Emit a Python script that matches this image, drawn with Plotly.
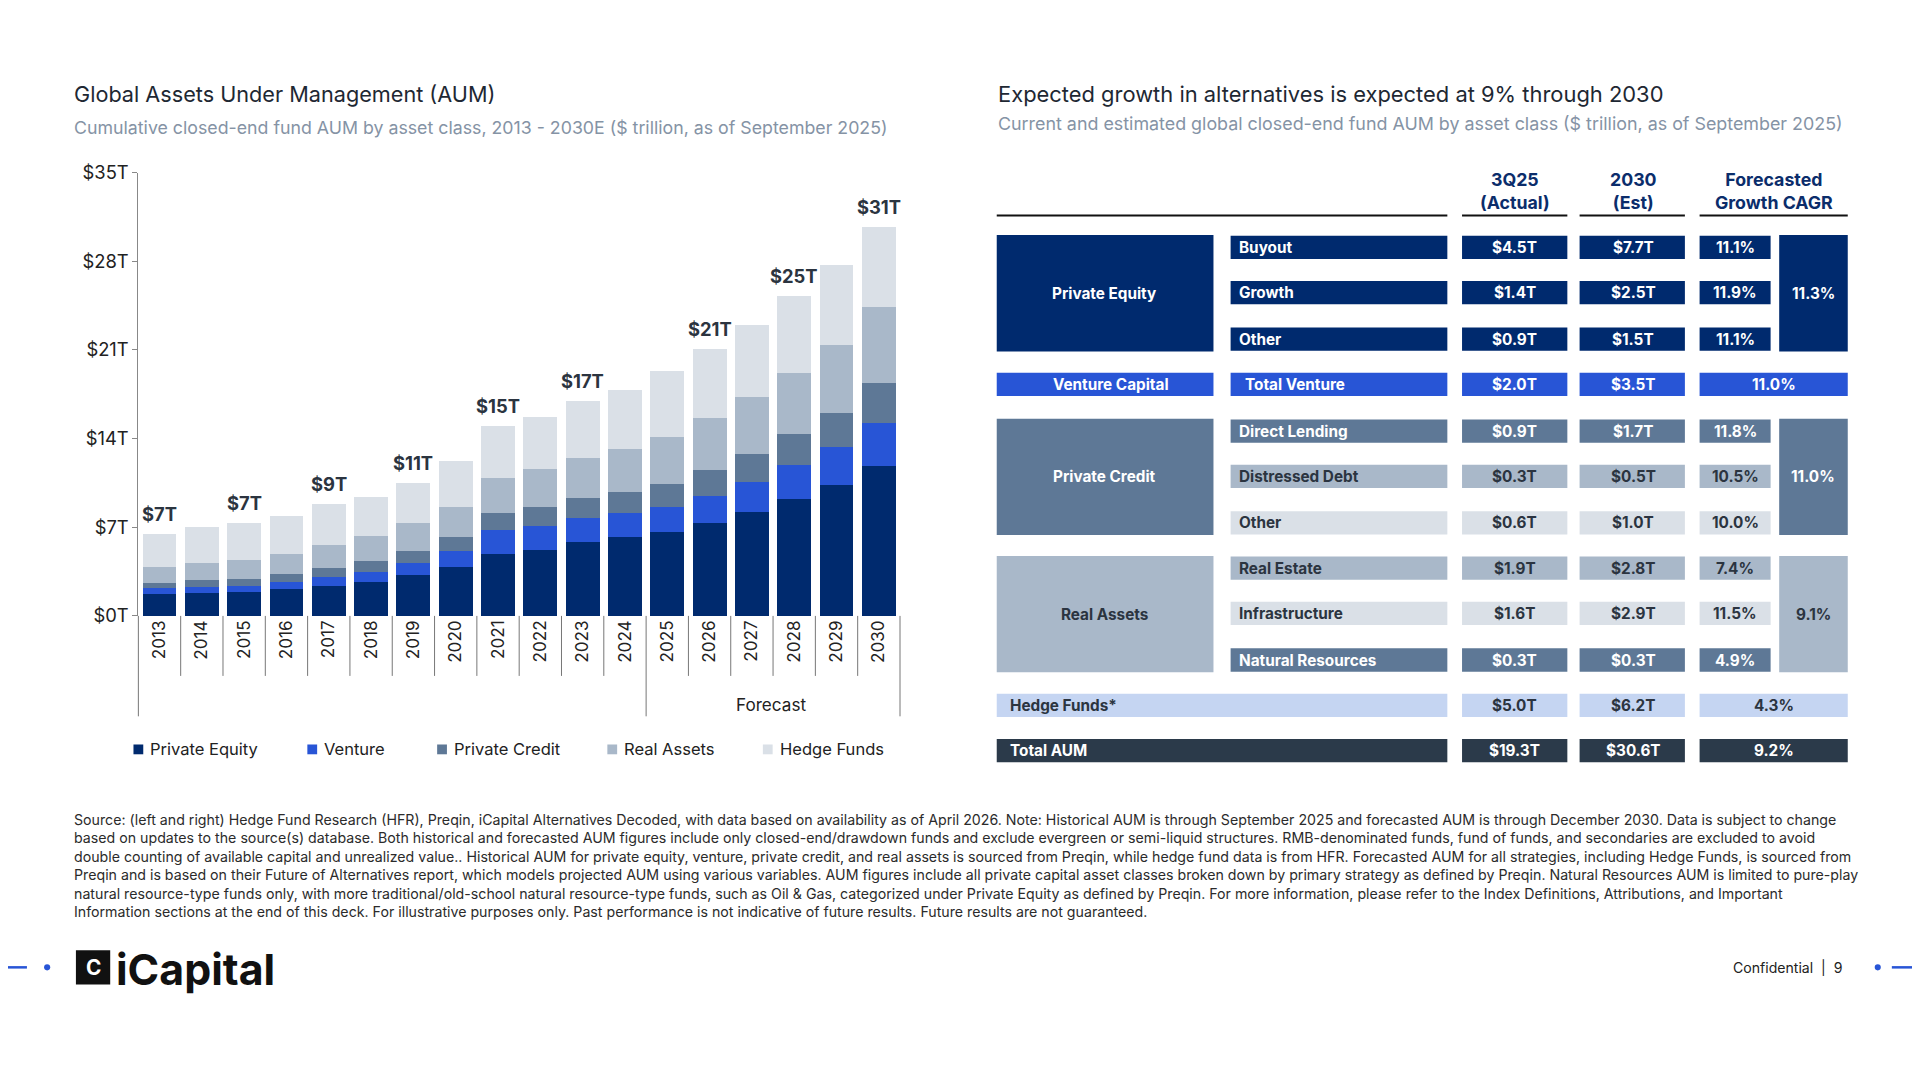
import plotly.graph_objects as go

# ---- data ----
years = [str(y) for y in range(2013, 2031)]
private_equity = [1.7, 1.8, 1.9, 2.1, 2.4, 2.7, 3.2, 3.9, 4.9, 5.2, 5.8, 6.2, 6.6, 7.3, 8.2, 9.2, 10.3, 11.8]
venture = [0.5, 0.5, 0.5, 0.6, 0.7, 0.8, 1.0, 1.2, 1.9, 1.9, 1.9, 1.9, 2.0, 2.2, 2.4, 2.7, 3.0, 3.4]
private_credit = [0.4, 0.5, 0.5, 0.6, 0.7, 0.8, 0.9, 1.1, 1.3, 1.5, 1.6, 1.7, 1.8, 2.0, 2.2, 2.5, 2.7, 3.2]
real_assets = [1.3, 1.4, 1.5, 1.6, 1.8, 2.0, 2.2, 2.4, 2.8, 3.0, 3.2, 3.4, 3.7, 4.1, 4.5, 4.8, 5.4, 6.0]
hedge_funds = [2.6, 2.8, 2.9, 3.0, 3.2, 3.1, 3.2, 3.6, 4.1, 4.1, 4.5, 4.6, 5.2, 5.5, 5.7, 6.1, 6.3, 6.3]
total_labels = {"2013": "$7T", "2015": "$7T", "2017": "$9T", "2019": "$11T", "2021": "$15T",
                "2023": "$17T", "2026": "$21T", "2028": "$25T", "2030": "$31T"}
y_ticks = [0, 7, 14, 21, 28, 35]

tbl_groups = ["Private Equity", "Venture Capital", "Private Credit", "Real Assets"]
tbl_rows = ["Buyout", "Growth", "Other", "Total Venture", "Direct Lending", "Distressed Debt", "Other",
            "Real Estate", "Infrastructure", "Natural Resources", "Hedge Funds*", "Total AUM"]
tbl_actual = ["$4.5T", "$1.4T", "$0.9T", "$2.0T", "$0.9T", "$0.3T", "$0.6T", "$1.9T", "$1.6T", "$0.3T", "$5.0T", "$19.3T"]
tbl_2030 = ["$7.7T", "$2.5T", "$1.5T", "$3.5T", "$1.7T", "$0.5T", "$1.0T", "$2.8T", "$2.9T", "$0.3T", "$6.2T", "$30.6T"]
tbl_cagr = ["11.1%", "11.9%", "11.1%", "11.0%", "11.8%", "10.5%", "10.0%", "7.4%", "11.5%", "4.9%", "4.3%", "9.2%"]
group_cagr = ["11.3%", None, "11.0%", "9.1%"]

NAVY, BLUE, SLATE, GREY, PALE = "#002A6E", "#2855D6", "#5E7896", "#A9B8C9", "#DAE0E7"
HF_BLUE, DARK = "#C5D5F2", "#2B3A4A"
W, H = 1568, 882
S = 1920 / W
OFF = 8 / S  # page margin of the browser, in reference pixels
FONT = "Inter"

def px(x):
    return (x - OFF) / W

def py(y):
    return 1 - (y - OFF) / H

shapes, annos = [], []

def box(x0, x1, y0, y1, color):
    shapes.append(dict(type="rect", xref="paper", yref="paper", x0=px(x0), x1=px(x1),
                       y0=py(y1), y1=py(y0), fillcolor=color, line=dict(width=0), layer="above"))

def line(x0, y0, x1, y1, color="#888", width=1):
    shapes.append(dict(type="line", xref="paper", yref="paper", x0=px(x0), x1=px(x1),
                       y0=py(y0), y1=py(y1), line=dict(color=color, width=width)))

def text(x, y, s, size=13, color="#111", bold=False, anchor="center", vanchor="middle"):
    if bold:
        s = "<b>" + s + "</b>"
    annos.append(dict(xref="paper", yref="paper", x=px(x), y=py(y), text=s, showarrow=False,
                      xanchor=anchor, yanchor=vanchor, align=anchor if anchor != "center" else "center",
                      font=dict(size=size * S, color=color, family=FONT)))

# ---- bar chart ----
fig = go.Figure()
xi = list(range(len(years)))
series = [("Private Equity", private_equity, NAVY), ("Venture", venture, BLUE),
          ("Private Credit", private_credit, SLATE), ("Real Assets", real_assets, GREY),
          ("Hedge Funds", hedge_funds, PALE)]
for name, vals, col in series:
    fig.add_trace(go.Bar(x=xi, y=vals, name=name, marker=dict(color=col, line=dict(width=0))))

totals = [sum(v) for v in zip(private_equity, venture, private_credit, real_assets, hedge_funds)]
for i, (yr, tot) in enumerate(zip(years, totals)):
    if yr in total_labels:
        annos.append(dict(x=i, y=tot, xref="x", yref="y", text="<b>" + total_labels[yr] + "</b>",
                          showarrow=False, yanchor="bottom", yshift=7,
                          font=dict(size=15 * S, color="#2B3440", family=FONT)))

# custom legend
for (name, _, col), lx in zip(series, [109, 251, 357, 496, 623]):
    box(lx, lx + 8, 608, 616, col)
    text(lx + 12, 612, name, 13.5, "#222", anchor="left")

# grid under the year labels
x_left, x_right = 113, 735
slot = (x_right - x_left) / len(years)
for i in range(len(years) + 1):
    xx = x_left + i * slot
    bottom = 585 if i in (0, 12, 18) else 552
    line(xx, 503, xx, bottom, "#777", 1)
text(630, 575, "Forecast", 14, "#222")

# titles
text(59, 77, "Global Assets Under Management (AUM)", 17.7, "#1E2833", anchor="left")
text(59, 104, "Cumulative closed-end fund AUM by asset class, 2013 - 2030E ($ trillion, as of September 2025)",
     14.5, "#8593A5", anchor="left")
text(813, 77, "Expected growth in alternatives is expected at 9% through 2030", 17.9, "#1E2833", anchor="left")
text(813, 101, "Current and estimated global closed-end fund AUM by asset class ($ trillion, as of September 2025)",
     14.6, "#8593A5", anchor="left")

# ---- table ----
HDR = "#0B2D6B"
text(1237, 156, "3Q25<br>(Actual)", 14.5, HDR, True)
text(1334, 156, "2030<br>(Est)", 14.5, HDR, True)
text(1449, 156, "Forecasted<br>Growth CAGR", 14.5, HDR, True)
for a, b in [(814, 1182), (1194, 1280), (1290, 1376), (1388, 1509)]:
    line(a, 176, b, 176, "#111", 2)

row_y = [202, 239, 277, 314, 352, 389, 427, 464, 501, 539, 576, 613]
row_col = [NAVY, NAVY, NAVY, BLUE, SLATE, GREY, PALE, GREY, PALE, SLATE, HF_BLUE, DARK]
dark_rows = {0, 1, 2, 3, 4, 9, 11}
group_span = [(0, 2), (3, 3), (4, 6), (7, 9)]
group_col = [NAVY, BLUE, SLATE, GREY]
hh = 9.5

for g, (a, b), gc, cg in zip(tbl_groups, group_span, group_col, group_cagr):
    y0, y1 = row_y[a] - hh, row_y[b] + hh
    if a != b:
        y0, y1 = y0 - 0.5, y1 + 0.5
    box(814, 991, y0, y1, gc)
    tc = "white" if gc != GREY else "#2B3440"
    text(902 if a != b else 907, (y0 + y1) / 2, g, 12.5, tc, True)
    if cg:
        box(1453, 1509, y0, y1, gc)
        text(1481, (y0 + y1) / 2, cg, 12.5, tc, True)

for i, (r, yy, c) in enumerate(zip(tbl_rows, row_y, row_col)):
    tc = "white" if i in dark_rows else "#2B3440"
    y0, y1 = yy - hh, yy + hh
    if i >= 10:
        box(814, 1182, y0, y1, c)
        text(823, yy, r, 12.5, tc, True, anchor="left")
    else:
        box(1005, 1182, y0, y1, c)
        text(1010 if i != 3 else 1015, yy, r, 12.5, tc, True, anchor="left")
    box(1194, 1280, y0, y1, c)
    text(1237, yy, tbl_actual[i], 12.5, tc, True)
    box(1290, 1376, y0, y1, c)
    text(1334, yy, tbl_2030[i], 12.5, tc, True)
    if i in (3, 10, 11):
        box(1388, 1509, y0, y1, c)
        text(1449, yy, tbl_cagr[i], 12.5, tc, True)
    else:
        box(1388, 1446, y0, y1, c)
        text(1417, yy, tbl_cagr[i], 12.5, tc, True)

# ---- footnote ----
footnote = ("Source: (left and right) Hedge Fund Research (HFR), Preqin, iCapital Alternatives Decoded, with data based on availability as of April 2026. Note: Historical AUM is through September 2025 and forecasted AUM is through December 2030. Data is subject to change<br>"
            "based on updates to the source(s) database. Both historical and forecasted AUM figures include only closed-end/drawdown funds and exclude evergreen or semi-liquid structures. RMB-denominated funds, fund of funds, and secondaries are excluded to avoid<br>"
            "double counting of available capital and unrealized value.. Historical AUM for private equity, venture, private credit, and real assets is sourced from Preqin, while hedge fund data is from HFR. Forecasted AUM for all strategies, including Hedge Funds, is sourced from<br>"
            "Preqin and is based on their Future of Alternatives report, which models projected AUM using various variables. AUM figures include all private capital asset classes broken down by primary strategy as defined by Preqin. Natural Resources AUM is limited to pure-play<br>"
            "natural resource-type funds only, with more traditional/old-school natural resource-type funds, such as Oil & Gas, categorized under Private Equity as defined by Preqin. For more information, please refer to the Index Definitions, Attributions, and Important<br>"
            "Information sections at the end of this deck. For illustrative purposes only. Past performance is not indicative of future results. Future results are not guaranteed.")
text(59, 661, footnote, 11.6, "#2B2B2B", anchor="left", vanchor="top")

# ---- footer ----
line(0, 790, 22, 790, "#2855D6", 2.5)
line(1545, 790, 1568, 790, "#2855D6", 2.5)
shapes.append(dict(type="circle", xref="paper", yref="paper", x0=px(36), x1=px(41), y0=py(792.5), y1=py(787.5),
                   fillcolor="#2855D6", line=dict(width=0)))
shapes.append(dict(type="circle", xref="paper", yref="paper", x0=px(1531), x1=px(1536), y0=py(792.5), y1=py(787.5),
                   fillcolor="#2855D6", line=dict(width=0)))
shapes.append(dict(type="rect", xref="paper", yref="paper", x0=px(62), x1=px(90), y0=py(804), y1=py(776),
                   fillcolor="#111", line=dict(width=0)))
text(76, 790, "C", 17, "white", True)
text(93, 791, "iCapital", 35, "#111", True, anchor="left")
text(1414, 790, "Confidential  |  9", 11.5, "#222", anchor="left")

fig.update_layout(
    width=1920, height=1080, barmode="stack", bargap=0.2, showlegend=False,
    paper_bgcolor="white", plot_bgcolor="white",
    margin=dict(l=0, r=0, t=0, b=0, autoexpand=False),
    font=dict(family=FONT, color="#222"),
    xaxis=dict(domain=[px(113), px(735)], range=[-0.5, len(years) - 0.5], tickvals=xi, ticktext=years,
               tickangle=-90, showgrid=False, showline=False, zeroline=False,
               ticks="", tickfont=dict(size=14 * S, color="#222")),
    yaxis=dict(domain=[py(503), py(141)], range=[0, 35], tickvals=y_ticks,
               ticktext=["$" + str(v) + "T" for v in y_ticks], showgrid=False, zeroline=False,
               showline=True, linecolor="#888", ticks="outside", ticklen=5, tickcolor="#888",
               tickfont=dict(size=15 * S, color="#222")),
    shapes=shapes, annotations=annos,
)

fig.write_html("out.html")
